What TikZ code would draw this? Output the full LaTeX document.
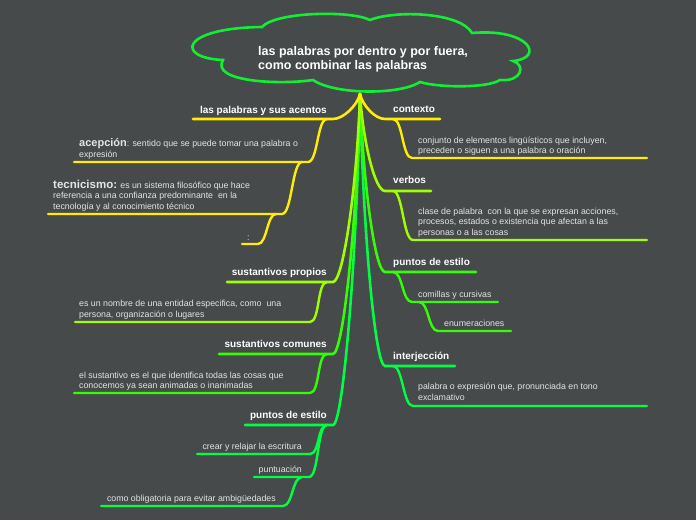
\documentclass[tikz,border=0pt]{standalone}
\usepackage{fontspec}
\setmainfont{Liberation Sans}
\definecolor{bg}{RGB}{70,74,75}
\definecolor{cyel}{RGB}{255,238,0}
\definecolor{clime}{RGB}{160,255,0}
\definecolor{cgrn}{RGB}{51,255,0}
\definecolor{cbg}{RGB}{0,255,68}
\definecolor{ccloud}{RGB}{17,238,51}
\definecolor{ctxt}{RGB}{228,228,228}
\begin{document}
\begin{tikzpicture}[x=1pt,y=-1pt,
  titletext/.style={font=\fontsize{10}{12}\selectfont\bfseries, text=white, inner sep=0pt},
  bodytext/.style={font=\fontsize{8.8}{10.5}\selectfont, text=ctxt, inner sep=0pt, align=left},
  rootbr/.style={line width=2.6pt, line cap=round},
  subbr/.style={line width=2.4pt, line cap=round}
]
\fill[bg] (0,0) rectangle (696,520);
\useasboundingbox (0,0) rectangle (696,520);

% cloud
\draw[ccloud, line width=2.6pt, fill=bg]
  (262,27) .. controls (275,12) and (350,10) .. (370,20)
  .. controls (395,10) and (460,12) .. (472,33)
  .. controls (530,28) and (545,58) .. (513,61)
  .. controls (526,65) and (522,82) .. (500,80)
  .. controls (488,88) and (440,88) .. (420,82)
  .. controls (400,95) and (335,95) .. (313,80)
  .. controls (280,85) and (210,82) .. (223,60)
  .. controls (175,58) and (180,28) .. cycle;
\node[font=\fontsize{12.5}{14}\selectfont\bfseries, text=white, inner sep=0pt, align=left, anchor=west] (title) at (258,58.8)
  {las palabras por dentro y por fuera,\\como combinar las palabras};

\coordinate (root) at (360,94);

% underline coordinates (s = outer end, e = end at connector, k = knot for children)
\coordinate (a1e) at (333,119); \coordinate (a1s) at (193,119); \coordinate (a1k) at (327,119);
\coordinate (a2e) at (308,162); \coordinate (a2s) at (74,162);  \coordinate (a2k) at (302,162);
\coordinate (a3e) at (282,214); \coordinate (a3s) at (48,214);  \coordinate (a3k) at (276,214);
\coordinate (a4e) at (258,244); \coordinate (a4s) at (242,244);
\coordinate (b1e) at (333,282); \coordinate (b1s) at (227,282); \coordinate (b1k) at (327,282);
\coordinate (b2e) at (310,322); \coordinate (b2s) at (75,322);
\coordinate (c1e) at (333,354); \coordinate (c1s) at (219,354); \coordinate (c1k) at (327,354);
\coordinate (c2e) at (310,393); \coordinate (c2s) at (74,393);
\coordinate (d1e) at (333,425); \coordinate (d1s) at (245,425); \coordinate (d1k) at (327,425);
\coordinate (d2e) at (310,454); \coordinate (d2s) at (197,454);
\coordinate (d3e) at (309,477); \coordinate (d3s) at (254,477); \coordinate (d3k) at (302,477);
\coordinate (d4e) at (283,506); \coordinate (d4s) at (101,506);

\coordinate (e1e) at (385,119); \coordinate (e1s) at (440,119); \coordinate (e1k) at (393,119);
\coordinate (e2e) at (412,158); \coordinate (e2s) at (647,158);
\coordinate (f1e) at (385,191); \coordinate (f1s) at (431,191); \coordinate (f1k) at (393,191);
\coordinate (f2e) at (413,240); \coordinate (f2s) at (647,240);
\coordinate (g1e) at (385,272); \coordinate (g1s) at (476,272); \coordinate (g1k) at (393,272);
\coordinate (g2e) at (412,302); \coordinate (g2s) at (498,302); \coordinate (g2k) at (419,302);
\coordinate (g3e) at (438,331); \coordinate (g3s) at (511,331);
\coordinate (h1e) at (385,366); \coordinate (h1s) at (455,366); \coordinate (h1k) at (393,366);
\coordinate (h2e) at (413,406); \coordinate (h2s) at (647,406);

% child connectors left
\draw[subbr, cyel] (a1k) .. controls +(-10,0) and +(10,0) .. (a2e) -- (a2s);
\draw[subbr, cyel] (a2k) .. controls +(-10,0) and +(10,0) .. (a3e) -- (a3s);
\draw[subbr, cyel] (a3k) .. controls +(-9,0) and +(9,0) .. (a4e) -- (a4s);
\draw[subbr, clime] (b1k) .. controls +(-10,0) and +(10,0) .. (b2e) -- (b2s);
\draw[subbr, cgrn] (c1k) .. controls +(-10,0) and +(10,0) .. (c2e) -- (c2s);
\draw[subbr, cbg] (d1k) .. controls +(-10,0) and +(10,0) .. (d2e) -- (d2s);
\draw[subbr, cbg] (d1k) .. controls +(-10,0) and +(10,0) .. (d3e) -- (d3s);
\draw[subbr, cbg] (d3k) .. controls +(-10,0) and +(10,0) .. (d4e) -- (d4s);
% child connectors right
\draw[subbr, cyel] (e1k) .. controls +(10,0) and +(-10,0) .. (e2e) -- (e2s);
\draw[subbr, clime] (f1k) .. controls +(10,0) and +(-10,0) .. (f2e) -- (f2s);
\draw[subbr, cgrn] (g1k) .. controls +(10,0) and +(-10,0) .. (g2e) -- (g2s);
\draw[subbr, cgrn] (g2k) .. controls +(10,0) and +(-10,0) .. (g3e) -- (g3s);
\draw[subbr, cbg] (h1k) .. controls +(10,0) and +(-10,0) .. (h2e) -- (h2s);

% root branches
\draw[rootbr, cbg] (root) .. controls +(-3,165) and +(10,0) .. (d1e) -- (d1s);
\draw[rootbr, cbg] (root) .. controls +(3,136) and +(-10,0) .. (h1e) -- (h1s);
\draw[rootbr, cgrn] (root) .. controls +(-3,130) and +(10,0) .. (c1e) -- (c1s);
\draw[rootbr, cgrn] (root) .. controls +(3,89) and +(-10,0) .. (g1e) -- (g1s);
\draw[rootbr, clime] (root) .. controls +(-3,94) and +(10,0) .. (b1e) -- (b1s);
\draw[rootbr, clime] (root) .. controls +(3,48) and +(-10,0) .. (f1e) -- (f1s);
\draw[rootbr, cyel] (root) .. controls +(-3,12) and +(10,0) .. (a1e) -- (a1s);
\draw[rootbr, cyel] (root) .. controls +(3,12) and +(-10,0) .. (e1e) -- (e1s);

% titles
\node[titletext, anchor=base east] (t1) at (327,113) {las palabras y sus acentos};
\node[titletext, anchor=base east] (t2) at (327,275) {sustantivos propios};
\node[titletext, anchor=base east] (t3) at (327,347) {sustantivos comunes};
\node[titletext, anchor=base east] (t4) at (327,418) {puntos de estilo};
\node[titletext, anchor=base west] (t5) at (393,112) {contexto};
\node[titletext, anchor=base west] (t6) at (393,183) {verbos};
\node[titletext, anchor=base west] (t7) at (393,265) {puntos de estilo};
\node[titletext, anchor=base west] (t8) at (393,359) {interjección};

% body texts (base anchor = baseline of last line)
\node[bodytext, anchor=base west] (n1) at (79,157)
  {{\fontsize{11}{11}\selectfont\bfseries acepción}: sentido que se puede tomar una palabra o\\expresión};
\node[bodytext, anchor=base west] (n2) at (53,209)
  {{\fontsize{11.5}{11.5}\selectfont\bfseries tecnicismo:} es un sistema filosófico que hace\\referencia a una confianza predominante\ \ en la\\tecnología y al conocimiento técnico};
\node[bodytext, anchor=base west] (n3) at (247,240) {:};
\node[bodytext, anchor=base west] (n4) at (418,153.5)
  {conjunto de elementos lingüísticos que incluyen,\\preceden o siguen a una palabra o oración};
\node[bodytext, anchor=base west] (n5) at (418,235)
  {clase de palabra\ \ con la que se expresan acciones,\\procesos, estados o existencia que afectan a las\\personas o a las cosas};
\node[bodytext, anchor=base west] (n6) at (418,297) {comillas y cursivas};
\node[bodytext, anchor=base west] (n7) at (444,326) {enumeraciones};
\node[bodytext, anchor=base west] (n8) at (418,400)
  {palabra o expresión que, pronunciada en tono\\exclamativo};
\node[bodytext, anchor=base west] (n9) at (79,317)
  {es un nombre de una entidad especifica, como\ \ una\\persona, organización o lugares};
\node[bodytext, anchor=base west] (n10) at (79,388.5)
  {el sustantivo es el que identifica todas las cosas que\\conocemos ya sean animadas o inanimadas};
\node[bodytext, anchor=base east] (n11) at (302,449) {crear y relajar la escritura};
\node[bodytext, anchor=base east] (n12) at (302,472) {puntuación};
\node[bodytext, anchor=base east] (n13) at (276,501) {como obligatoria para evitar ambigüedades};
\end{tikzpicture}
\end{document}
